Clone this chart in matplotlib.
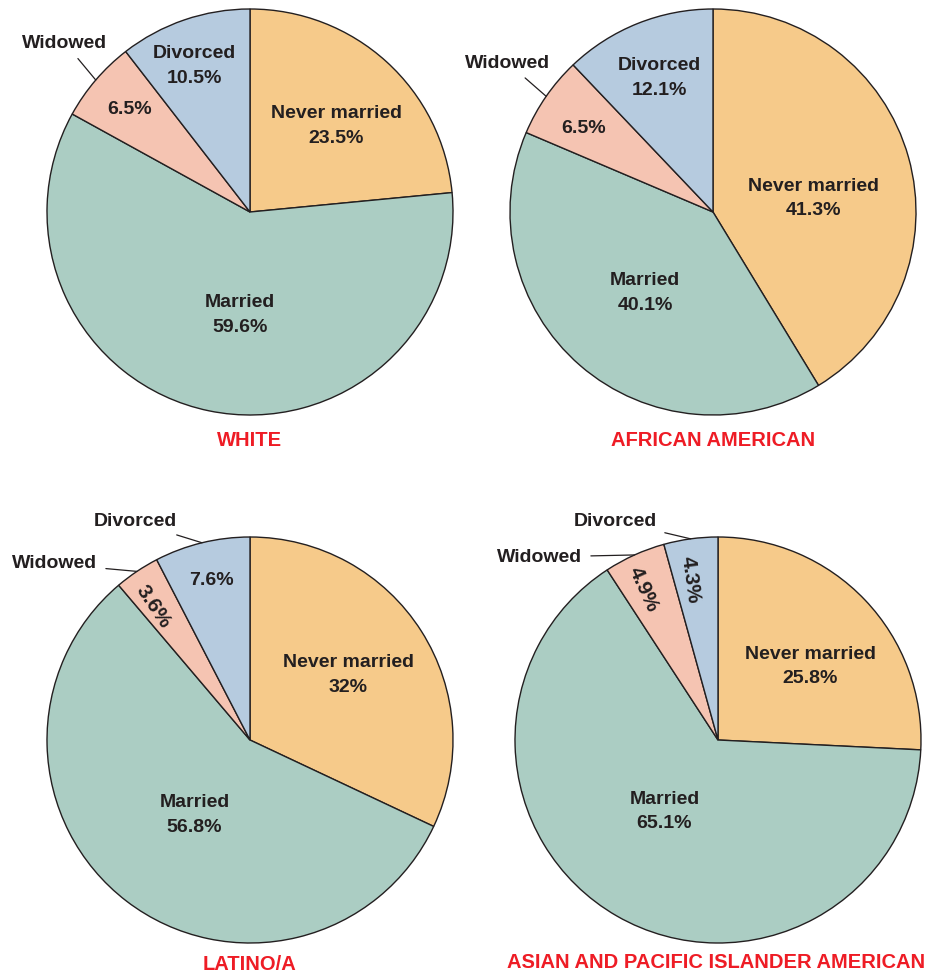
import numpy as np
import matplotlib
matplotlib.use("Agg")
import matplotlib.pyplot as plt

plt.rcParams["font.family"] = ["Liberation Sans", "DejaVu Sans"]

# ---- data -------------------------------------------------------------
categories = ["Never married", "Married", "Widowed", "Divorced"]
white = [23.5, 59.6, 6.5, 10.5]
african_american = [41.3, 40.1, 6.5, 12.1]
latino = [32, 56.8, 3.6, 7.6]
asian = [25.8, 65.1, 4.9, 4.3]
titles = ["WHITE", "AFRICAN AMERICAN", "LATINO/A",
          "ASIAN AND PACIFIC ISLANDER AMERICAN"]
pct_text = {
    "WHITE": ["23.5%", "59.6%", "6.5%", "10.5%"],
    "AFRICAN AMERICAN": ["41.3%", "40.1%", "6.5%", "12.1%"],
    "LATINO/A": ["32%", "56.8%", "3.6%", "7.6%"],
    "ASIAN AND PACIFIC ISLANDER AMERICAN": ["25.8%", "65.1%", "4.9%", "4.3%"],
}

colors = ["#F6CA8A", "#ABCDC3", "#F5C4B2", "#B6CBDF"]
edge = "#231F20"
ink = "#231F20"
red = "#EE1C25"

W, H = 928, 975
R = 203

# layout per pie: center (px), title pos, inside label (angle shift, radius frac),
# which wedges get name inside, outside labels (index -> text pos px), rotated pcts
layouts = [
    dict(c=(250, 212), title=(250, 440),
         inside=[(-3, 0.60), (6, 0.51), (0, 0.78), (2, 0.77)],
         names_in=[0, 1, 3], outside={2: (65, 43)}, rotate=[]),
    dict(c=(713, 212), title=(713, 440),
         inside=[(-8, 0.50), (1, 0.52), (2, 0.76), (0, 0.71)],
         names_in=[0, 1, 3], outside={2: (508, 63)}, rotate=[]),
    dict(c=(250, 740), title=(250, 965),
         inside=[(1, 0.58), (1, 0.46), (2, 0.81), (0, 0.81)],
         names_in=[0, 1], outside={2: (55, 564), 3: (135, 522)}, rotate=[2]),
    dict(c=(718, 740), title=(716, 963),
         inside=[(-5, 0.58), (-7, 0.44), (2, 0.83), (2, 0.80)],
         names_in=[0, 1], outside={2: (540, 557), 3: (615, 521)}, rotate=[2, 3]),
]

fig = plt.figure(figsize=(W / 100, H / 100), dpi=100)
ax = fig.add_axes([0, 0, 1, 1])

for vals, title, lay in zip([white, african_american, latino, asian], titles, layouts):
    cx, cy = lay["c"][0], H - lay["c"][1]
    wedges, _ = ax.pie(vals, colors=colors, startangle=90, counterclock=False,
                       center=(cx, cy), radius=R,
                       wedgeprops=dict(edgecolor=edge, linewidth=1.0))
    for i, w in enumerate(wedges):
        mid = (w.theta1 + w.theta2) / 2
        shift, rf = lay["inside"][i]
        a = np.deg2rad(mid + shift)
        tx, ty = cx + rf * R * np.cos(a), cy + rf * R * np.sin(a)
        txt = pct_text[title][i]
        if i in lay["names_in"]:
            txt = categories[i] + "\n" + txt
        rotated = i in lay["rotate"]
        rot = mid - 180 if rotated else 0
        ax.text(tx, ty, txt, ha="center", va="center",
                fontsize=15 if rotated else 14,
                fontweight="bold", color=ink, rotation=rot,
                rotation_mode="anchor", linespacing=1.6)
        if i in lay["outside"]:
            ox, oy = lay["outside"][i]
            am = np.deg2rad(mid)
            ex, ey = cx + R * np.cos(am), cy + R * np.sin(am)
            ax.annotate(categories[i], xy=(ex, ey), xytext=(ox, H - oy),
                        ha="center", va="center", fontsize=14,
                        fontweight="bold", color=ink,
                        arrowprops=dict(arrowstyle="-", color=edge, lw=0.9,
                                        shrinkA=4, shrinkB=0))
    tx, ty = lay["title"]
    ax.text(tx, H - ty, title, ha="center", va="center", fontsize=14.5,
            fontweight="bold", color=red)

ax.set_xlim(0, W)
ax.set_ylim(0, H)
ax.set_aspect("equal")
ax.axis("off")
fig.savefig("out.png", dpi=100, facecolor="white")
